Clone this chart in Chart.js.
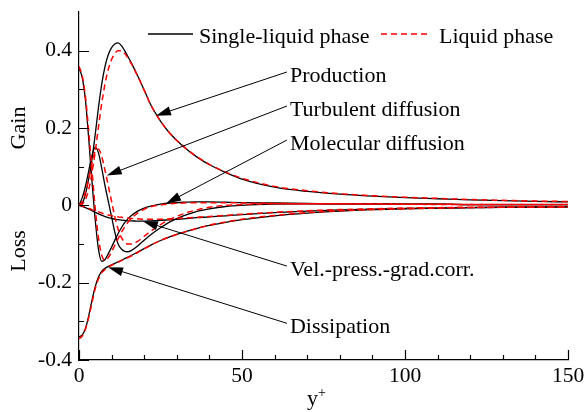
<!DOCTYPE html>
<html>
<head>
<meta charset="utf-8">
<script src="https://cdn.jsdelivr.net/npm/chart.js@4.4.1/dist/chart.umd.min.js"></script>
<style>
  html, body { margin: 0; padding: 0; background: #fff; }
  canvas { display: block; }
</style>
</head>
<body>
<canvas id="budget" width="586" height="412"></canvas>
<script>
// Wall-normal positions (y+)
const yPlus = [0,1,2,3,4,5,6,7,8,9,10,11,12,13,14,15,16,18,20,22,25,28,32,36,40,45,50,60,70,80,90,100,110,120,130,140,150];

// Budget terms, single-liquid phase
const productionSingle = [0,0.005,0.03,0.07,0.12,0.185,0.255,0.315,0.36,0.39,0.408,0.417,0.42,0.413,0.4,0.385,0.369,0.335,0.298,0.26,0.218,0.185,0.152,0.126,0.105,0.085,0.068,0.047,0.036,0.029,0.024,0.02,0.017,0.014,0.012,0.01,0.009];
const turbDiffSingle   = [0,0.02,0.05,0.09,0.13,0.15,0.135,0.095,0.05,0.01,-0.03,-0.07,-0.1,-0.113,-0.119,-0.12,-0.117,-0.105,-0.09,-0.076,-0.058,-0.042,-0.027,-0.016,-0.009,-0.003,0,0.003,0.004,0.004,0.004,0.003,0.003,0.002,0.002,0.002,0.002];
const molDiffSingle    = [0.355,0.33,0.27,0.17,0.06,-0.04,-0.115,-0.145,-0.14,-0.125,-0.108,-0.09,-0.073,-0.058,-0.045,-0.035,-0.027,-0.015,-0.007,-0.002,0.003,0.006,0.008,0.009,0.009,0.008,0.007,0.006,0.005,0.004,0.004,0.003,0.003,0.002,0.002,0.002,0.002];
const velPressSingle   = [0,-0.003,-0.006,-0.01,-0.014,-0.018,-0.022,-0.026,-0.029,-0.032,-0.034,-0.036,-0.037,-0.038,-0.039,-0.04,-0.04,-0.041,-0.041,-0.04,-0.039,-0.037,-0.035,-0.032,-0.03,-0.027,-0.024,-0.019,-0.015,-0.012,-0.01,-0.008,-0.007,-0.006,-0.005,-0.005,-0.004];
const dissipSingle     = [-0.34,-0.335,-0.318,-0.285,-0.245,-0.21,-0.185,-0.17,-0.163,-0.158,-0.154,-0.15,-0.146,-0.142,-0.138,-0.134,-0.13,-0.121,-0.112,-0.103,-0.091,-0.081,-0.07,-0.06,-0.052,-0.044,-0.037,-0.027,-0.02,-0.015,-0.011,-0.009,-0.007,-0.006,-0.005,-0.004,-0.004];

// Budget terms, liquid phase
const productionLiquid = [0,0.003,0.015,0.042,0.085,0.14,0.205,0.265,0.315,0.352,0.377,0.393,0.4,0.4,0.393,0.381,0.367,0.334,0.298,0.26,0.218,0.185,0.153,0.127,0.106,0.086,0.07,0.049,0.038,0.03,0.025,0.021,0.018,0.015,0.013,0.011,0.01];
const turbDiffLiquid   = [0,0.01,0.035,0.07,0.11,0.14,0.145,0.125,0.09,0.05,0.01,-0.03,-0.062,-0.083,-0.095,-0.1,-0.1,-0.093,-0.08,-0.067,-0.05,-0.036,-0.022,-0.012,-0.005,0,0.002,0.004,0.004,0.004,0.004,0.003,0.003,0.002,0.002,0.002,0.002];
const molDiffLiquid    = [0.36,0.335,0.28,0.19,0.09,-0.01,-0.085,-0.13,-0.142,-0.135,-0.12,-0.103,-0.086,-0.07,-0.056,-0.044,-0.034,-0.02,-0.01,-0.004,0.001,0.004,0.006,0.007,0.007,0.007,0.006,0.005,0.004,0.004,0.003,0.003,0.002,0.002,0.002,0.002,0.002];
const velPressLiquid   = [0,-0.002,-0.005,-0.008,-0.011,-0.014,-0.017,-0.02,-0.023,-0.025,-0.027,-0.029,-0.03,-0.031,-0.032,-0.033,-0.034,-0.035,-0.036,-0.036,-0.036,-0.035,-0.033,-0.031,-0.029,-0.026,-0.023,-0.018,-0.014,-0.011,-0.009,-0.007,-0.006,-0.005,-0.005,-0.004,-0.004];
const dissipLiquid     = [-0.345,-0.338,-0.32,-0.29,-0.252,-0.215,-0.19,-0.174,-0.166,-0.16,-0.155,-0.151,-0.147,-0.143,-0.139,-0.135,-0.131,-0.122,-0.112,-0.103,-0.091,-0.081,-0.07,-0.06,-0.051,-0.043,-0.036,-0.026,-0.019,-0.014,-0.011,-0.009,-0.007,-0.006,-0.005,-0.004,-0.004];

// Axis ticks
const xMajorTicks = [0, 50, 100, 150];
const xMinorTicks = [10, 20, 30, 40, 60, 70, 80, 90, 110, 120, 130, 140];
const yMajorTicks = [-0.4, -0.2, 0, 0.2, 0.4];
const yMinorTicks = [-0.3, -0.1, 0.1, 0.3];

// Legend entries
const legendLabels = ['Single-liquid phase', 'Liquid phase'];

// Term labels with arrow tips, in data units (y+, value)
const termNotes = [
  { text: 'Production',             tip: [23.6, 0.232],  at: [64.7, 0.319] },
  { text: 'Turbulent diffusion',    tip: [8.5, 0.077],   at: [64.7, 0.231] },
  { text: 'Molecular diffusion',    tip: [26.7, 0.005],  at: [64.7, 0.143] },
  { text: 'Vel.-press.-grad.corr.', tip: [19.6, -0.041], at: [64.7, -0.183] },
  { text: 'Dissipation',            tip: [8.9, -0.16],   at: [64.7, -0.331] }
];

const SERIF = "'Liberation Serif', 'Times New Roman', Times, serif";
const TEXT_PX = 22;
const TICK_PX = 21.5;
const BLACK = '#000000';
const RED = '#ff0000';

function line(values, liquid) {
  return {
    data: values.map((v, i) => ({ x: yPlus[i], y: v })),
    borderColor: liquid ? RED : BLACK,
    borderWidth: liquid ? 1.5 : 1.3,
    borderDash: liquid ? [6, 4] : [],
    pointRadius: 0,
    fill: false,
    cubicInterpolationMode: 'monotone'
  };
}

// liquid-phase curves listed first so they sit on top
const datasets = [
  line(productionLiquid, true), line(turbDiffLiquid, true), line(molDiffLiquid, true),
  line(velPressLiquid, true), line(dissipLiquid, true),
  line(productionSingle, false), line(turbDiffSingle, false), line(molDiffSingle, false),
  line(velPressSingle, false), line(dissipSingle, false)
];

function drawArrow(ctx, x0, y0, x1, y1) {
  const ang = Math.atan2(y1 - y0, x1 - x0);
  const L = 15, W = 4.5;
  const c = Math.cos(ang), s = Math.sin(ang);
  ctx.beginPath();
  ctx.moveTo(x0, y0);
  ctx.lineTo(x1 - L * c * 0.6, y1 - L * s * 0.6);
  ctx.stroke();
  ctx.beginPath();
  ctx.moveTo(x1, y1);
  ctx.lineTo(x1 - L * c + W * s, y1 - L * s - W * c);
  ctx.lineTo(x1 - L * c - W * s, y1 - L * s + W * c);
  ctx.closePath();
  ctx.fill();
}

const decorations = {
  id: 'decorations',
  afterDraw(chart) {
    const { ctx, chartArea: a, scales: { x, y } } = chart;
    ctx.save();
    ctx.strokeStyle = BLACK;
    ctx.fillStyle = BLACK;

    // inward tick marks
    ctx.lineWidth = 1.2;
    ctx.beginPath();
    xMajorTicks.forEach(v => { const p = Math.round(x.getPixelForValue(v)) + 0.5; ctx.moveTo(p, a.bottom); ctx.lineTo(p, a.bottom - 10); });
    xMinorTicks.forEach(v => { const p = Math.round(x.getPixelForValue(v)) + 0.5; ctx.moveTo(p, a.bottom); ctx.lineTo(p, a.bottom - 5); });
    yMajorTicks.forEach(v => { const p = Math.round(y.getPixelForValue(v)) + 0.5; ctx.moveTo(a.left, p); ctx.lineTo(a.left + 10, p); });
    yMinorTicks.forEach(v => { const p = Math.round(y.getPixelForValue(v)) + 0.5; ctx.moveTo(a.left, p); ctx.lineTo(a.left + 5, p); });
    ctx.stroke();

    ctx.font = TEXT_PX + 'px ' + SERIF;
    ctx.textBaseline = 'alphabetic';
    ctx.textAlign = 'left';

    // legend
    ctx.lineWidth = 1.3;
    ctx.beginPath(); ctx.moveTo(148, 34); ctx.lineTo(193, 34); ctx.stroke();
    ctx.fillText(legendLabels[0], 199, 43);
    ctx.strokeStyle = RED; ctx.lineWidth = 1.5; ctx.setLineDash([6, 4]);
    ctx.beginPath(); ctx.moveTo(381, 34); ctx.lineTo(428, 34); ctx.stroke();
    ctx.setLineDash([]);
    ctx.strokeStyle = BLACK;
    ctx.fillText(legendLabels[1], 439, 43);

    // term labels with arrows
    ctx.lineWidth = 1;
    termNotes.forEach(n => {
      const tx = x.getPixelForValue(n.at[0]);
      const ty = y.getPixelForValue(n.at[1]);
      const px = x.getPixelForValue(n.tip[0]);
      const py = y.getPixelForValue(n.tip[1]);
      ctx.fillText(n.text, tx, ty);
      drawArrow(ctx, tx - 3, ty - 10, px, py);
    });

    // Gain / Loss side labels
    ctx.textAlign = 'center';
    ctx.textBaseline = 'middle';
    [['Gain', y.getPixelForValue(0.2)], ['Loss', y.getPixelForValue(-0.118)]].forEach(([t, cy]) => {
      ctx.save();
      ctx.translate(19, cy);
      ctx.rotate(-Math.PI / 2);
      ctx.fillText(t, 0, 0);
      ctx.restore();
    });

    // x-axis title y+
    ctx.textAlign = 'left';
    ctx.textBaseline = 'alphabetic';
    ctx.font = TEXT_PX + 'px ' + SERIF;
    ctx.fillText('y', 307, 405);
    ctx.font = '14px ' + SERIF;
    ctx.fillText('+', 318, 397);
    ctx.restore();
  }
};

new Chart(document.getElementById('budget'), {
  type: 'line',
  data: { datasets },
  options: {
    responsive: false,
    animation: false,
    devicePixelRatio: 1,
    layout: { padding: { top: 12, right: 18, left: 0, bottom: 0 } },
    plugins: { legend: { display: false }, tooltip: { enabled: false } },
    scales: {
      x: {
        type: 'linear', min: 0, max: 150,
        afterBuildTicks: s => { s.ticks = xMajorTicks.map(v => ({ value: v })); },
        afterFit: s => { s.height = 52; s.paddingLeft = 0; s.paddingRight = 0; },
        grid: { display: false, drawTicks: false },
        border: { display: true, color: BLACK, width: 1.2 },
        ticks: { color: BLACK, font: { family: SERIF, size: TICK_PX }, padding: 3, maxRotation: 0, autoSkip: false }
      },
      y: {
        type: 'linear', min: -0.4, max: 0.5,
        afterBuildTicks: s => { s.ticks = yMajorTicks.map(v => ({ value: v })); },
        afterFit: s => { s.width = 79; s.paddingTop = 0; s.paddingBottom = 0; },
        grid: { display: false, drawTicks: false },
        border: { display: true, color: BLACK, width: 1.2 },
        ticks: {
          color: BLACK, font: { family: SERIF, size: TICK_PX }, padding: 7,
          callback: v => (Math.abs(v) < 1e-9 ? '0' : v.toFixed(1))
        }
      }
    }
  },
  plugins: [decorations]
});
</script>
</body>
</html>
